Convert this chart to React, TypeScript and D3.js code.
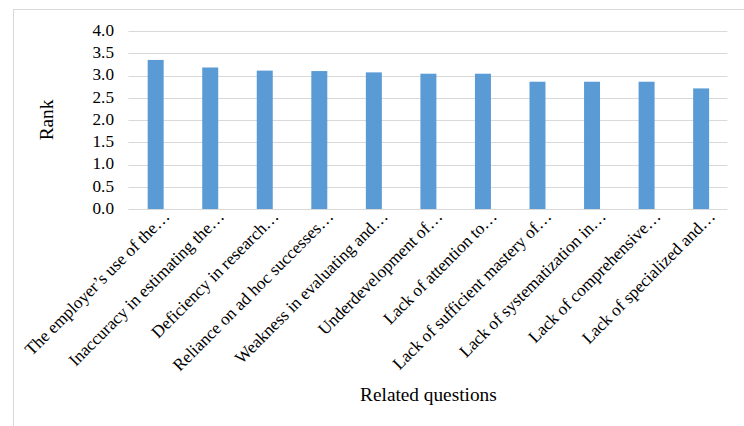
import React from "react";
import * as d3 from "d3";

const categories: string[] = [
  "The employer’s use of the…",
  "Inaccuracy in estimating the…",
  "Deficiency in research…",
  "Reliance on ad hoc successes…",
  "Weakness in evaluating and…",
  "Underdevelopment of…",
  "Lack of attention to…",
  "Lack of sufficient mastery of…",
  "Lack of systematization in…",
  "Lack of comprehensive…",
  "Lack of specialized and…",
];
const values: number[] = [3.35, 3.18, 3.11, 3.1, 3.07, 3.04, 3.04, 2.86, 2.86, 2.86, 2.71];
const yTicks: number[] = [0, 0.5, 1, 1.5, 2, 2.5, 3, 3.5, 4];
const yTitle = "Rank";
const xTitle = "Related questions";

const W = 744;
const H = 426;
const left = 128.4;
const right = 728.4;
const top = 31;
const bottom = 209;
const fontStyle = { fontFamily: '"Liberation Serif", "DejaVu Serif", serif' };

export default function App() {
  const x = d3
    .scaleBand<string>()
    .domain(categories)
    .range([left, right])
    .paddingInner(0.707)
    .paddingOuter(0.3535);
  const y = d3.scaleLinear().domain([0, 4]).range([bottom, top]);

  return (
    <div style={{ position: "absolute", left: 0, top: 0 }}>
      <svg width={W} height={H} style={{ display: "block", background: "#fff" }}>
        <rect x={13.5} y={9.5} width={W + 10} height={H + 10} fill="#fff" stroke="#d9d9d9" strokeWidth={1} />
        {yTicks.map((t) => (
          <g key={t}>
            <line x1={left} x2={right - 1} y1={Math.round(y(t)) + 0.5} y2={Math.round(y(t)) + 0.5} stroke="#d9d9d9" strokeWidth={1} />
            <text x={114} y={y(t) + 4.8} textAnchor="end" style={fontStyle} fontSize={17.2} fill="#000">
              {d3.format(".1f")(t)}
            </text>
          </g>
        ))}
        {categories.map((c, i) => (
          <rect
            key={c}
            x={x(c)!}
            y={y(values[i])}
            width={x.bandwidth()}
            height={y(0) - y(values[i])}
            fill="#5b9bd5"
          />
        ))}
        {categories.map((c) => {
          const cx = x(c)! + x.bandwidth() / 2;
          return (
            <text
              key={"l" + c}
              transform={`translate(${cx + 15},${217.5}) rotate(-45)`}
              textAnchor="end"
              style={fontStyle}
              fontSize={17.2}
              fill="#000"
            >
              {c}
            </text>
          );
        })}
        <text
          transform={`translate(53,${(top + bottom) / 2}) rotate(-90)`}
          textAnchor="middle"
          style={fontStyle}
          fontSize={19.3}
          fill="#000"
        >
          {yTitle}
        </text>
        <text x={(left + right) / 2} y={401} textAnchor="middle" style={fontStyle} fontSize={19.3} fill="#000">
          {xTitle}
        </text>
      </svg>
    </div>
  );
}
